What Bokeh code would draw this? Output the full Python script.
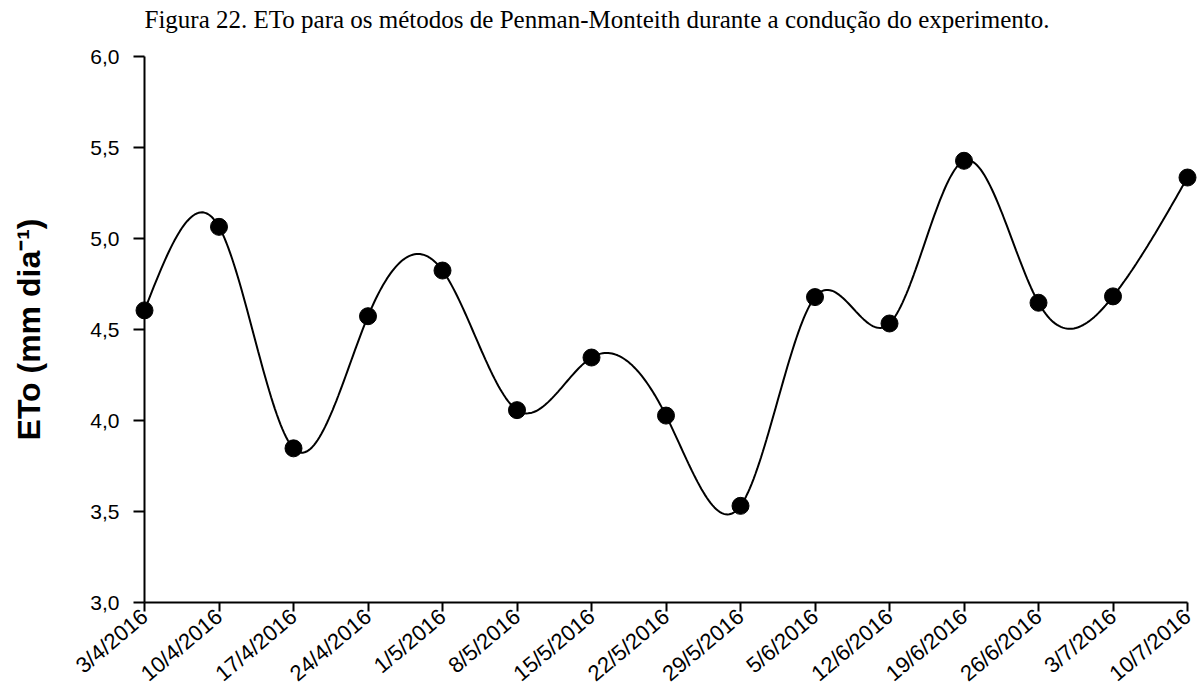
import numpy as np
from bokeh.plotting import figure
from bokeh.models import Range1d, FixedTicker, Title
from bokeh.embed import file_html
from bokeh.resources import INLINE
from math import radians

# ---- data ----
dates = ["3/4/2016", "10/4/2016", "17/4/2016", "24/4/2016", "1/5/2016",
         "8/5/2016", "15/5/2016", "22/5/2016", "29/5/2016", "5/6/2016",
         "12/6/2016", "19/6/2016", "26/6/2016", "3/7/2016", "10/7/2016"]
eto = [4.605, 5.064, 3.847, 4.573, 4.824, 4.057, 4.346, 4.027, 3.531,
       4.678, 4.533, 5.427, 4.647, 4.682, 5.335]
y_ticks = [3.0, 3.5, 4.0, 4.5, 5.0, 5.5, 6.0]
y_tick_labels = ["3,0", "3,5", "4,0", "4,5", "5,0", "5,5", "6,0"]
title_text = "Figura 22. ETo para os métodos de Penman-Monteith durante a condução do experimento."
y_label = "ETo (mm dia⁻¹)"

# ---- smooth curve (natural cubic spline through the points) ----
xs = np.arange(len(eto), dtype=float)
ys = np.array(eto)
n = len(xs)
A = np.zeros((n, n))
b = np.zeros(n)
A[0, 0] = 1.0
A[-1, -1] = 1.0
for i in range(1, n - 1):
    A[i, i - 1] = 1.0
    A[i, i] = 4.0
    A[i, i + 1] = 1.0
    b[i] = 6.0 * (ys[i + 1] - 2 * ys[i] + ys[i - 1])
M = np.linalg.solve(A, b)
cx, cy = [], []
for i in range(n - 1):
    t = np.linspace(0, 1, 40, endpoint=(i == n - 2))
    a_ = 1 - t
    val = a_ * ys[i] + t * ys[i + 1] + ((a_ ** 3 - a_) * M[i] + (t ** 3 - t) * M[i + 1]) / 6.0
    cx.extend(list(xs[i] + t))
    cy.extend(list(val))

p = figure(width=1200, height=698, output_backend="svg", toolbar_location=None,
           x_range=Range1d(0, len(dates) - 1), y_range=Range1d(3.0, 6.0),
           min_border_left=144, min_border_right=13, min_border_top=56,
           min_border_bottom=93)
p.outline_line_color = None
p.xgrid.grid_line_color = None
p.ygrid.grid_line_color = None
p.background_fill_color = "white"
p.border_fill_color = "white"

# main title (outermost)
p.title.text = title_text
p.title.align = "left"
p.title.offset = 0
p.title.standoff = 0
p.title.text_font = "Liberation Serif"
p.title.text_font_size = "25px"
p.title.text_font_style = "normal"
p.title.text_color = "black"

# spacer between title and frame
spacer = Title(text=" ", text_font_size="20px", standoff=0)
p.add_layout(spacer, "above")

p.line(cx, cy, line_color="black", line_width=2)
r = p.scatter(xs, ys, size=17, marker="circle", fill_color="black", line_color="black")
r.level = "overlay"

# axes
for ax in (p.xaxis[0], p.yaxis[0]):
    ax.axis_line_color = "black"
    ax.axis_line_width = 2
    ax.major_tick_line_color = "black"
    ax.major_tick_line_width = 2
    ax.major_tick_in = 0
    ax.minor_tick_line_color = None
    ax.major_label_text_font = "Liberation Sans"
    ax.major_label_text_color = "black"

p.xaxis.ticker = FixedTicker(ticks=list(range(len(dates))))
p.xaxis.major_label_overrides = {i: d for i, d in enumerate(dates)}
p.xaxis.major_label_orientation = radians(40)
p.xaxis.major_label_text_font_size = "22px"
p.xaxis.major_tick_out = 9
p.xaxis.major_label_standoff = 2

p.yaxis.ticker = FixedTicker(ticks=y_ticks)
p.yaxis.major_label_overrides = {v: l for v, l in zip(y_ticks, y_tick_labels)}
p.yaxis.major_label_text_font_size = "21px"
p.yaxis.major_tick_out = 11
p.yaxis.major_label_standoff = 14
p.yaxis.axis_label = y_label
p.yaxis.axis_label_text_font = "Liberation Sans"
p.yaxis.axis_label_text_font_size = "32px"
p.yaxis.axis_label_text_font_style = "bold"
p.yaxis.axis_label_text_color = "black"
p.yaxis.axis_label_standoff = 40

open("out.html", "w").write(file_html(p, INLINE))
